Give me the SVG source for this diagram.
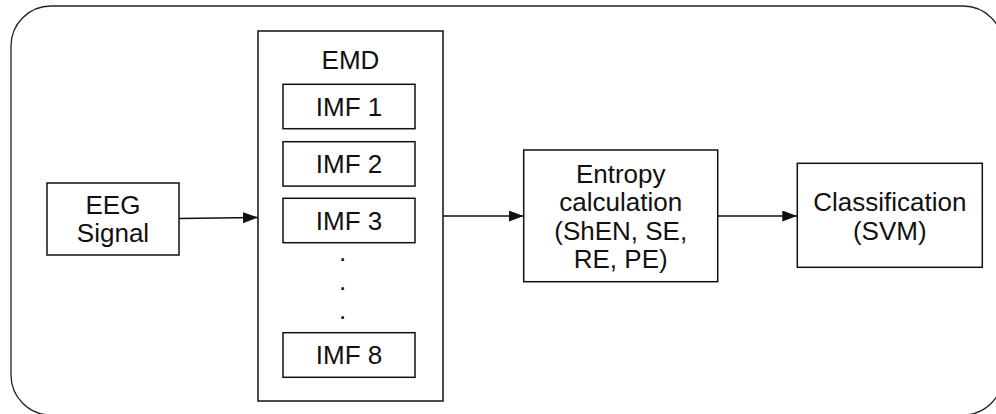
<svg xmlns="http://www.w3.org/2000/svg" width="996" height="414" viewBox="0 0 996 414">
<defs>
<style>
.box{fill:#fff;stroke:#111;stroke-width:1.5}
.outer{fill:#fff;stroke:#222;stroke-width:1.3}
.t{font-family:"Liberation Sans",Arial,Helvetica,sans-serif;font-size:26px;fill:#111;text-anchor:middle}
.dot{font-family:"Liberation Sans",Arial,Helvetica,sans-serif;font-size:26px;fill:#111}
.edge{fill:none;stroke:#111;stroke-width:1.5}
</style>
<marker id="arr" markerWidth="15" markerHeight="11" refX="15" refY="5.5" orient="auto" markerUnits="userSpaceOnUse">
<path d="M0,0 L15,5.5 L0,11 Z" fill="#111"/>
</marker>
</defs>
<rect class="outer" x="11" y="6" width="992" height="409" rx="40" ry="40"/>
<g id="eeg">
<rect class="box" x="47" y="183" width="132" height="72"/>
<text class="t" x="113" y="213.5">EEG</text>
<text class="t" x="113" y="242">Signal</text>
</g>
<g id="emd">
<rect class="box" x="258" y="31" width="185" height="370"/>
<text class="t" x="350.5" y="68.5">EMD</text>
<g id="imf1"><rect class="box" x="283" y="84.3" width="132" height="44.4"/><text class="t" x="349" y="115.8">IMF 1</text></g>
<g id="imf2"><rect class="box" x="283" y="141.7" width="132" height="44.4"/><text class="t" x="349" y="173.2">IMF 2</text></g>
<g id="imf3"><rect class="box" x="283" y="198.3" width="132" height="44.4"/><text class="t" x="349" y="229.8">IMF 3</text></g>
<text class="dot" x="339" y="261">.</text>
<text class="dot" x="339" y="290">.</text>
<text class="dot" x="339" y="319">.</text>
<g id="imf8"><rect class="box" x="283" y="332.7" width="132" height="44.6"/><text class="t" x="349" y="364.3">IMF 8</text></g>
</g>
<g id="entropy">
<rect class="box" x="523.7" y="150" width="194" height="131.7"/>
<text class="t" x="620.7" y="182.5">Entropy</text>
<text class="t" x="620.7" y="211">calculation</text>
<text class="t" x="620.7" y="239.5">(ShEN, SE,</text>
<text class="t" x="620.7" y="268">RE, PE)</text>
</g>
<g id="classification">
<rect class="box" x="797.3" y="163.3" width="185" height="104"/>
<text class="t" x="889.8" y="211">Classification</text>
<text class="t" x="889.8" y="239.6">(SVM)</text>
</g>
<g id="connectors">
<path class="edge" d="M179,218.5 L258,217.5" marker-end="url(#arr)"/>
<path class="edge" d="M443,216 L523.7,216" marker-end="url(#arr)"/>
<path class="edge" d="M717.7,216 L797.3,216" marker-end="url(#arr)"/>
</g>
</svg>
